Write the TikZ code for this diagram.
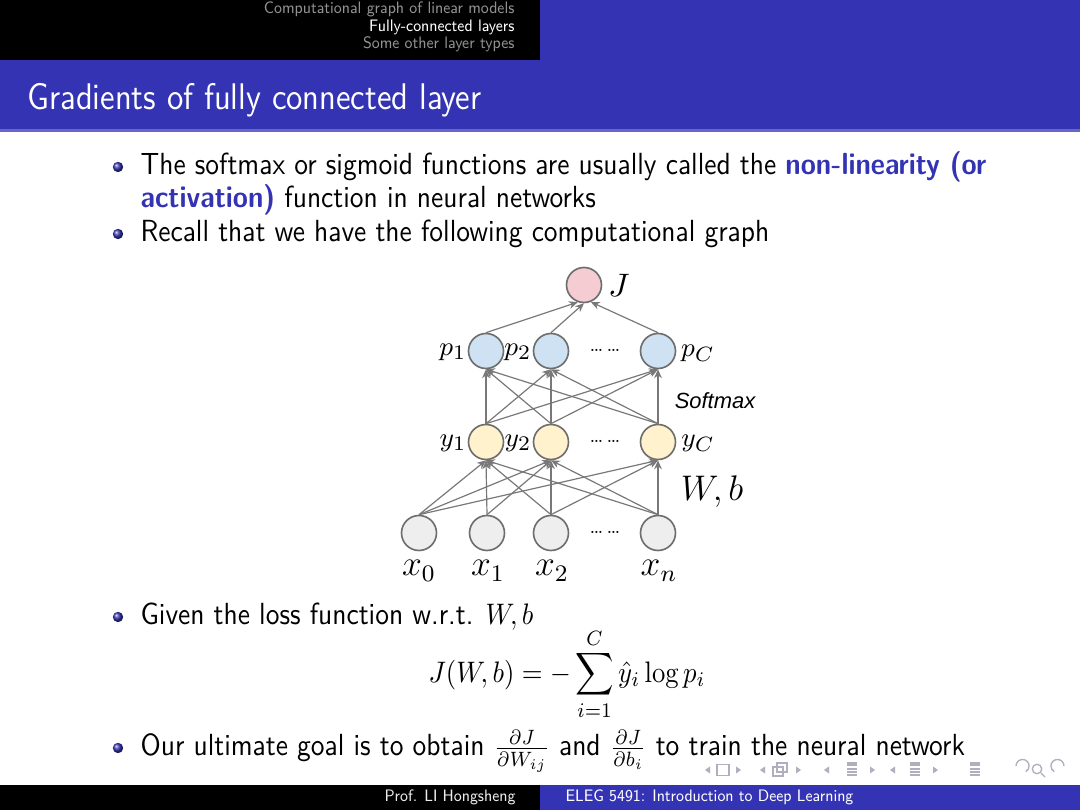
\documentclass[tikz,border=0pt]{standalone}
\usepackage{fontspec}
\newfontfamily\arialfont{Liberation Sans}
\usetikzlibrary{arrows.meta}
\definecolor{sblue}{RGB}{51,51,179}
\definecolor{navtext}{RGB}{145,145,145}
\definecolor{ndborder}{RGB}{110,110,110}
\definecolor{edgegray}{RGB}{120,120,120}
\definecolor{fillJ}{RGB}{244,204,210}
\definecolor{fillP}{RGB}{207,226,243}
\definecolor{fillY}{RGB}{255,242,204}
\definecolor{fillX}{RGB}{238,238,238}
\definecolor{iconc}{RGB}{175,175,190}
\newcommand{\sq}[1]{\scalebox{0.9}[1]{#1}}
\begin{document}
\begin{tikzpicture}[x=0.3372pt,y=-0.3372pt,
  nd/.style={circle, draw=ndborder, line width=0.55pt, minimum size=11.8pt, inner sep=0pt},
  edge/.style={draw=edgegray, line width=0.4pt, -{Stealth[length=3pt,width=2.6pt]}},
  lab/.style={inner sep=0pt, font=\fontsize{9.5}{11}\selectfont},
  xlab/.style={inner sep=0pt, font=\fontsize{12}{14}\selectfont},
  dots/.style={inner sep=0pt, font=\fontsize{6}{7}\selectfont},
  body/.style={anchor=base west, inner sep=0pt, font=\sffamily\fontsize{10.3}{12}\selectfont},
  navtxt/.style={anchor=base east, inner sep=0pt, font=\sffamily\fontsize{5.6}{7}\selectfont},
  foot/.style={anchor=base, inner sep=0pt, font=\sffamily\fontsize{5.6}{7}\selectfont, text=white},
  icon/.style={fill=iconc, draw=none},
  iconl/.style={draw=iconc, line width=0.45pt}
]
\useasboundingbox (0,0) rectangle (1080,810);
\fill[white] (0,0) rectangle (1080,810);
% header
\fill[sblue] (0,0) rectangle (1080,131);
\fill[sblue!75!white] (0,129) rectangle (1080,132);
\fill[black] (0,0) rectangle (540,60);
\node[navtxt, text=navtext] (nav1) at (515,14) {\sq{Computational graph of linear models}};
\node[navtxt, text=white] (nav2) at (515,31.5) {\sq{Fully-connected layers}};
\node[navtxt, text=navtext] (nav3) at (515,49) {\sq{Some other layer types}};
\node[anchor=base west, inner sep=0pt, text=white, font=\sffamily\fontsize{12.5}{15}\selectfont] (title) at (27,110) {\sq{Gradients of fully connected layer}};
% bullets
\foreach \yy in {167,234,617,748} {\shade[ball color=sblue] (118,\yy) circle (1.75pt);}
\node[body] (l1) at (140,175) {\sq{The softmax or sigmoid functions are usually called the \textcolor{sblue}{\bfseries non-linearity (or}}};
\node[body] (l2) at (140,208) {\sq{\textcolor{sblue}{\bfseries activation)} function in neural networks}};
\node[body] (l3) at (140,242) {\sq{Recall that we have the following computational graph}};
\node[body] (l4) at (140,625) {\sq{Given the loss function w.r.t. $W,b$}};
\node[inner sep=0pt, font=\fontsize{10}{12}\selectfont] (eq) at (567,674) {\sq{$\displaystyle J(W,b) = -\sum_{i=1}^{C}\hat{y}_i\log p_i$}};
\node[body] (l5) at (140,756) {\sq{Our ultimate goal is to obtain $\frac{\partial J}{\partial W_{ij}}$ and $\frac{\partial J}{\partial b_i}$ to train the neural network}};
% graph nodes
\node[nd, fill=fillJ] (J) at (584,285) {};
\node[nd, fill=fillP] (p1) at (486,351) {};
\node[nd, fill=fillP] (p2) at (551,351) {};
\node[nd, fill=fillP] (pC) at (658,351) {};
\node[nd, fill=fillY] (y1) at (486,442) {};
\node[nd, fill=fillY] (y2) at (551,442) {};
\node[nd, fill=fillY] (yC) at (658,442) {};
\node[nd, fill=fillX] (x0) at (419,533) {};
\node[nd, fill=fillX] (x1) at (487,533) {};
\node[nd, fill=fillX] (x2) at (551,533) {};
\node[nd, fill=fillX] (xn) at (658,533) {};
% edges
\draw[edge] (p1.north) -- (J.250);
\draw[edge] (p2.north) -- (J.270);
\draw[edge] (pC.north) -- (J.292);
\foreach \a in {y1,y2,yC}{\foreach \b in {p1,p2,pC}{\draw[edge] (\a.north) -- (\b.south);}}
\foreach \b in {y1,y2,yC}{\draw[edge] (x0.north) -- (\b.south);}
\foreach \b in {y1,y2}{\draw[edge] (x1.north) -- (\b.south);}
\foreach \b in {y1,y2,yC}{\draw[edge] (x2.north) -- (\b.south);}
\foreach \b in {y1,y2,yC}{\draw[edge] (xn.north) -- (\b.south);}
% labels
\node[lab, font=\fontsize{10.5}{12}\selectfont] (lJ) at (619,285) {$J$};
\node[lab] (lp1) at (453,352) {$p_1$};
\node[lab] (lp2) at (518,352) {$p_2$};
\node[dots] (dp) at (605,350) {\ldots\,\ldots};
\node[lab] (lpC) at (698,353) {$p_C$};
\node[inner sep=0pt, font=\arialfont\itshape\fontsize{7.4}{9}\selectfont] (soft) at (715,401) {Softmax};
\node[lab] (ly1) at (453,443) {$y_1$};
\node[lab] (ly2) at (518,443) {$y_2$};
\node[dots] (dy) at (605,441) {\ldots\,\ldots};
\node[lab] (lyC) at (698,443) {$y_C$};
\node[inner sep=0pt, font=\fontsize{12.5}{15}\selectfont] (Wb) at (712,492) {$W,b$};
\node[dots] (dx) at (605,532) {\ldots\,\ldots};
\node[xlab] (lx0) at (419,571) {$x_0$};
\node[xlab] (lx1) at (488,571) {$x_1$};
\node[xlab] (lx2) at (552,571) {$x_2$};
\node[xlab] (lxn) at (659,571) {$x_n$};
% navigation symbols
\foreach \xx in {708,763,827,893} {\fill[icon] (\xx-3,770) -- (\xx+2,766.5) -- (\xx+2,773.5) -- cycle;}
\foreach \xx in {738,798,872,935} {\fill[icon] (\xx+3,770) -- (\xx-2,766.5) -- (\xx-2,773.5) -- cycle;}
\draw[iconl] (717,764.5) rectangle (729,775.5);
\draw[iconl] (773,767) rectangle (783,776);
\draw[iconl] (777,763) rectangle (787,772);
\foreach \xx in {852,915,975} {
  \fill[icon] (\xx-5,762) rectangle (\xx+5,766);
  \draw[iconl] (\xx-5,769) -- (\xx+5,769);
  \draw[iconl] (\xx-5,772) -- (\xx+5,772);
  \draw[iconl] (\xx-5,775) -- (\xx+5,775);
}
\draw[iconl] (1016,766) arc[start angle=180, end angle=-60, radius=2.2pt];
\draw[iconl] (1037,769) circle (1.6pt);
\draw[iconl] (1041,773) -- (1045,777);
\draw[iconl] (1064,766) arc[start angle=0, end angle=240, radius=2.2pt];
% footer
\fill[black] (0,785) rectangle (540,810);
\fill[sblue] (540,785) rectangle (1080,810);
\node[foot, text=white!85!gray] (fa) at (450,802) {\sq{Prof. LI Hongsheng}};
\node[foot, anchor=base west] (fb) at (565,802) {\sq{ELEG 5491: Introduction to Deep Learning}};
\end{tikzpicture}
\end{document}
